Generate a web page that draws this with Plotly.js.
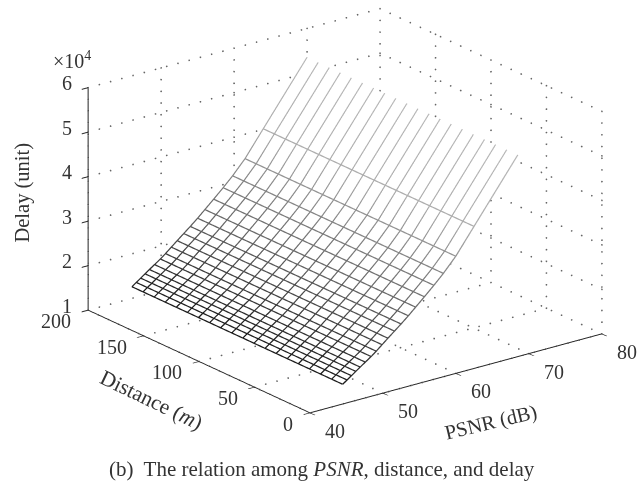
<!DOCTYPE html>
<html><head><meta charset="utf-8">
<script src="https://cdn.plot.ly/plotly-3.0.1.min.js"></script>
<style>html,body{margin:0;padding:0;background:#fff}#c{width:644px;height:487px}</style>
</head><body><div id="c"></div>
<script>
const psnr = [46,46.6,47.2,47.8,48.4,49.1,49.9,50.6,51.4,52.2,53.1,54,55,56,57.2,58.5,59.8,61.5,64,70];
const distance = [10,20,30,40,50,60,70,80,90,100,110,120,130,140,150,160,170,180,190,200];
const delayByPsnr = [1.26,1.33,1.4,1.47,1.54,1.62,1.71,1.8,1.91,2.02,2.14,2.26,2.4,2.55,2.73,2.93,3.14,3.45,4.01,5.35];
const psnrTicks = [40,50,60,70,80];
const distanceTicks = [0,50,100,150,200];
const delayTicks = [1,2,3,4,5,6];

// mesh lines: columns, and rows except the top one (white in the original colormap)
const mx=[],my=[],mz=[];
distance.forEach(d=>{ psnr.forEach((p,i)=>{mx.push(p);my.push(d);mz.push(delayByPsnr[i]);}); mx.push(null);my.push(null);mz.push(null);});
psnr.slice(0,-1).forEach((p,i)=>{ distance.forEach(d=>{mx.push(p);my.push(d);mz.push(delayByPsnr[i]);}); mx.push(null);my.push(null);mz.push(null);});

// dotted grid, as small markers
const gx=[],gy=[],gz=[];
function dots(a,b,n){ for(let k=0;k<=n;k++){const t=k/n; gx.push(a[0]+(b[0]-a[0])*t); gy.push(a[1]+(b[1]-a[1])*t); gz.push(a[2]+(b[2]-a[2])*t);} }
const P0=40,P1=80,D0=0,D1=200,Z0=1,Z1=6;
psnrTicks.forEach(p=>{ dots([p,D0,Z0],[p,D1,Z0],22); dots([p,D1,Z0],[p,D1,Z1],19); });
distanceTicks.forEach(d=>{ dots([P0,d,Z0],[P1,d,Z0],26); dots([P1,d,Z0],[P1,d,Z1],19); });
delayTicks.forEach(z=>{ if(z>Z0){ dots([P0,D1,z],[P1,D1,z],26); dots([P1,D0,z],[P1,D1,z],22);} });

const axisBase = {showgrid:false,zeroline:false,showbackground:false,showspikes:false,showline:true,linecolor:'#222',linewidth:2,
  ticks:'outside',ticklen:8,tickcolor:'#222',tickwidth:2,showticklabels:false,tickmode:'array',title:{text:''}};

const data = [];
data.push({type:'surface',x:psnr,y:distance,z:distance.map(()=>delayByPsnr.map(v=>v-0.015)),
  colorscale:[[0,'#ffffff'],[1,'#ffffff']],showscale:false,hoverinfo:'skip',
  lighting:{ambient:1,diffuse:0,specular:0,roughness:1,fresnel:0}});
data.push({type:'scatter3d',mode:'lines',x:mx,y:my,z:mz,hoverinfo:'skip',connectgaps:false,showlegend:false,
  line:{width:2.5,color:mz,cmin:1.26,cmax:5.35,colorscale:[[0,'#1a1a1a'],[0.3,'#666666'],[0.67,'#adadad'],[1,'#b8b8b8']]}});
data.push({type:'scatter3d',mode:'markers',x:gx,y:gy,z:gz,hoverinfo:'skip',showlegend:false,
  marker:{size:1,color:'#666',line:{width:0}}});

const SERIF='Liberation Serif', INK='#333';
const sceneNotes=[];
function note(x,y,z,text,xshift,yshift,size,angle,xanchor){
  sceneNotes.push({x,y,z,text,xshift,yshift,textangle:angle||0,showarrow:false,xanchor:xanchor||'center',yanchor:'middle',font:{family:SERIF,size,color:INK}});
}
distanceTicks.forEach(d=>note(P0,d,Z0,String(d),-15,-11,20,0,'right'));
psnrTicks.forEach(p=>note(p,D0,Z0,String(p),25,-18,20));
delayTicks.forEach(z=>note(P0,D1,z,String(z),-21,4.5,20));
note(P0,100,Z0,'Distance (<i>m</i>)',-48,-39,21.5,25.6);
note(60,D0,Z0,'PSNR (dB)',35,-49.5,20.5,-13.5);
note(P0,D1,3.5,'Delay (unit)',-65.5,6,20.5,-90);

const layout = {
  width:644,height:487,margin:{l:0,r:0,t:0,b:0},paper_bgcolor:'#fff',showlegend:false,
  font:{family:SERIF,color:INK},
  scene:{domain:{x:[0,1],y:[0,1]},
    aspectmode:'manual',aspectratio:{x:1.509,y:1.5,z:0.977},
    camera:{projection:{type:'orthographic'},eye:{x:-1.362,y:-1.626,z:0.658},center:{x:-0.104,y:0.0196,z:-0.1258},up:{x:0,y:0,z:1}},
    xaxis:Object.assign({},axisBase,{range:[40,80],tickvals:psnrTicks}),
    yaxis:Object.assign({},axisBase,{range:[0,200],tickvals:distanceTicks}),
    zaxis:Object.assign({},axisBase,{range:[1,6],tickvals:delayTicks}),
    annotations:sceneNotes
  },
  annotations:[
    {xref:'paper',yref:'paper',x:0.5,y:0.037,xanchor:'center',yanchor:'middle',showarrow:false,text:'(b)  The relation among <i>PSNR</i>, distance, and delay',font:{family:SERIF,size:21,color:INK}},
    {xref:'paper',yref:'paper',x:0.1125,y:0.877,xanchor:'center',yanchor:'middle',showarrow:false,text:'×10<sup>4</sup>',font:{family:SERIF,size:20,color:INK}}
  ]
};
Plotly.newPlot('c',data,layout,{displayModeBar:false});
</script></body></html>
